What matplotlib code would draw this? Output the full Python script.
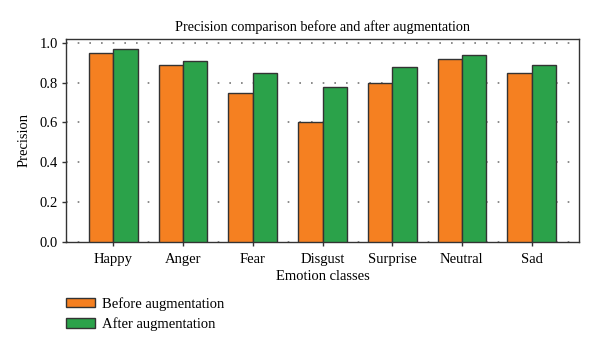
import numpy as np
import matplotlib
matplotlib.use('Agg')
import matplotlib.pyplot as plt

# Data
classes = ['Happy', 'Anger', 'Fear', 'Disgust', 'Surprise', 'Neutral', 'Sad']
before = [0.95, 0.89, 0.75, 0.60, 0.80, 0.92, 0.85]
after = [0.97, 0.91, 0.85, 0.78, 0.88, 0.94, 0.89]
yticks = [0.0, 0.2, 0.4, 0.6, 0.8, 1.0]

plt.rcParams['font.family'] = ['Liberation Serif', 'DejaVu Serif']

fig = plt.figure(figsize=(6, 3.5), dpi=100)
ax = fig.add_axes([0.11, 0.309, 0.855, 0.58])

x = np.arange(len(classes))
w = 0.35
edge = '#333333'
ax.bar(x - w / 2, before, w, color='#F58021', edgecolor=edge, linewidth=1.0,
       label='Before augmentation', zorder=3)
ax.bar(x + w / 2, after, w, color='#2BA24A', edgecolor=edge, linewidth=1.0,
       label='After augmentation', zorder=3)

ax.set_xlim(-0.68, 6.68)
ax.set_ylim(0, 1.02)
ax.set_xticks(x)
ax.set_xticklabels(classes, fontsize=10.5)
ax.set_yticks(yticks)
ax.set_yticklabels(['%.1f' % t for t in yticks], fontsize=10.5)
ax.tick_params(axis='both', direction='out', length=3, width=1, color=edge, pad=3)
ax.tick_params(axis='x', pad=5)
ax.yaxis.grid(True, linestyle=(0, (1, 6)), color='#777777', linewidth=1.2, zorder=0)
for s in ax.spines.values():
    s.set_color(edge)
    s.set_linewidth(1.0)

ax.set_title('Precision comparison before and after augmentation', fontsize=10.2, pad=6)
ax.set_xlabel('Emotion classes', fontsize=10.5, labelpad=3)
ax.set_ylabel('Precision', fontsize=10.5, labelpad=6)

fig.legend(loc='upper left', bbox_to_anchor=(0.1, 0.168), frameon=False, fontsize=10.5,
           handlelength=2.0, handleheight=0.6, handletextpad=0.5, labelspacing=0.45,
           borderaxespad=0)

fig.savefig('out.png', dpi=100)
